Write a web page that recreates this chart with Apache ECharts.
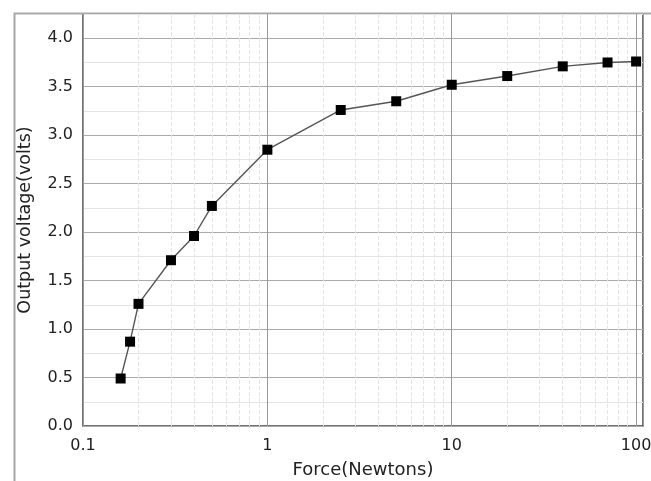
<!DOCTYPE html>
<html>
<head>
<meta charset="utf-8">
<script src="https://cdn.jsdelivr.net/npm/echarts@6/dist/echarts.min.js"></script>
<style>
html,body{margin:0;padding:0;background:#fff;}
#main{width:651px;height:481px;}
</style>
</head>
<body>
<div id="main"></div>
<script>
var force = [0.16, 0.18, 0.2, 0.3, 0.4, 0.5, 1, 2.5, 5, 10, 20, 40, 70, 100];
var voltage = [0.49, 0.87, 1.26, 1.71, 1.96, 2.27, 2.85, 3.26, 3.35, 3.52, 3.61, 3.71, 3.75, 3.76];
var xMinor = [0.2, 0.3, 0.4, 0.5, 0.6, 0.7, 0.8, 0.9, 2, 3, 4, 5, 6, 7, 8, 9, 20, 30, 40, 50, 60, 70, 80, 90];
var xLabels = ['0.1', '1', '10', '100'];

var myChart = echarts.init(document.getElementById('main'));
var option = {
    animation: false,
    textStyle: {fontFamily: 'DejaVu Sans, sans-serif'},
    graphic: [{
        type: 'rect',
        left: 12, top: 11,
        shape: {width: 700, height: 520},
        style: {fill: 'none', stroke: '#a8a8a8', lineWidth: 2},
        silent: true
    }],
    grid: {
        left: 83, top: 14, right: 8, bottom: 55,
        outerBoundsMode: 'none',
        containLabel: false,
        show: true,
        borderColor: '#444',
        borderWidth: 1.5
    },
    xAxis: {
        type: 'log',
        logBase: 10,
        min: 0.1,
        max: 109,
        interval: 1,
        name: 'Force(Newtons)',
        nameLocation: 'middle',
        nameGap: 35,
        nameTextStyle: {fontSize: 18, color: '#222'},
        axisLine: {show: false},
        axisTick: {show: false},
        axisLabel: {
            fontSize: 16, color: '#222', margin: 12,
            showMaxLabel: true,
            formatter: function (v) {
                var s = String(+v.toPrecision(3));
                return xLabels.indexOf(s) >= 0 ? s : '';
            }
        },
        splitLine: {show: true, lineStyle: {color: '#999', width: 1}}
    },
    yAxis: {
        type: 'value',
        min: 0,
        max: 4.25,
        interval: 0.25,
        name: 'Output voltage(volts)',
        nameLocation: 'middle',
        nameGap: 49,
        nameTextStyle: {fontSize: 17.5, color: '#222'},
        axisLine: {show: false},
        axisTick: {show: false},
        axisLabel: {
            fontSize: 16, color: '#222', margin: 10,
            formatter: function (v) {
                return Math.abs(v * 2 - Math.round(v * 2)) < 1e-6 && v <= 4 ? v.toFixed(1) : '';
            }
        },
        splitLine: {show: true, lineStyle: {color: ['#aaa', '#e4e4e4'], width: 1}}
    },
    series: [{
        // minor grid lines for the log axis (2..9 in each decade)
        type: 'line',
        data: [],
        silent: true,
        z: 1,
        markLine: {
            silent: true,
            symbol: 'none',
            label: {show: false},
            lineStyle: {color: '#e4e4e4', type: 'dashed', width: 1},
            data: xMinor.map(function (v) { return {xAxis: v}; })
        }
    }, {
        type: 'line',
        zlevel: 1,
        data: force.map(function (f, i) { return [f, voltage[i]]; }),
        symbol: 'rect',
        symbolSize: 10,
        itemStyle: {color: '#000', borderWidth: 0},
        lineStyle: {color: '#555', width: 1.4},
        z: 3
    }]
};
myChart.setOption(option);
</script>
</body>
</html>
